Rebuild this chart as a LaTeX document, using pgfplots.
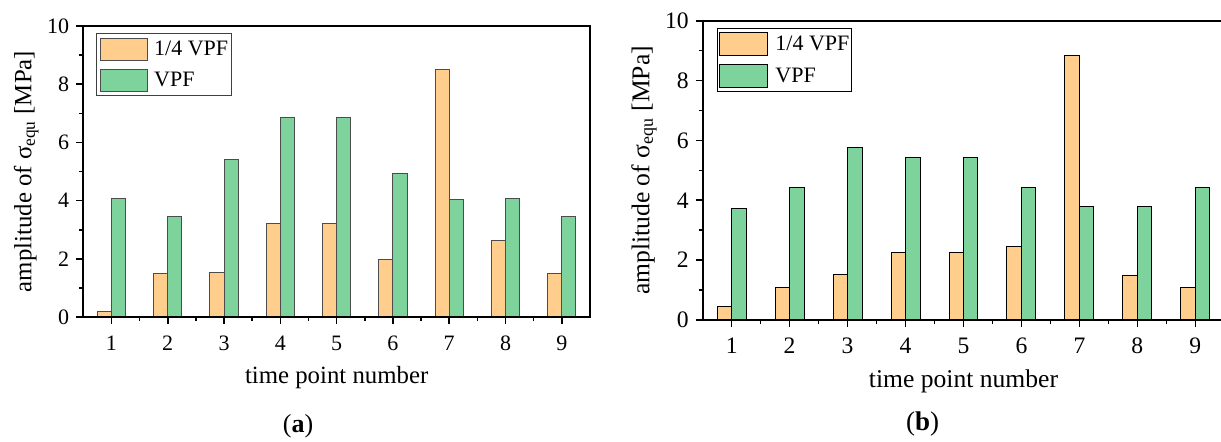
\documentclass[border=0pt]{standalone}
\usepackage{fontspec}
\setmainfont{Liberation Serif}
\usepackage{pgfplots}
\usepackage{pgfplotstable}
\pgfplotsset{compat=1.18}

\definecolor{quarter}{RGB}{255,205,140}
\definecolor{full}{RGB}{125,211,155}

% amplitudes of the equivalent stress [MPa] per time point
\pgfplotstableread{
t q f
1 0.20 4.06
2 1.48 3.46
3 1.52 5.40
4 3.23 6.87
5 3.23 6.87
6 1.98 4.93
7 8.50 4.03
8 2.63 4.06
9 1.48 3.46
}\dataA

\pgfplotstableread{
t q f
1 0.46 3.73
2 1.10 4.43
3 1.53 5.78
4 2.26 5.44
5 2.26 5.44
6 2.46 4.43
7 8.85 3.79
8 1.49 3.79
9 1.09 4.43
}\dataB

\pgfplotsset{
  vpfbars/.style={
    scale only axis, enlargelimits=false, axis on top,
    xmin=0.5, xmax=9.5, ymin=0, ymax=10,
    xtick={1,...,9}, ytick={0,2,...,10},
    minor x tick num=1, minor y tick num=1,
    tick align=outside, tick pos=left,
    major tick length=3.5pt, minor tick length=2pt,
    every tick/.style={black, line width=0.8pt},
    axis line style={line width=0.8pt},
    /pgf/number format/assume math mode=true,
    xticklabel style={anchor=base, yshift=-13pt},
    xlabel={time point number},
    ylabel={amplitude of σ\textsubscript{equ} [MPa]},
    legend cell align=left,
  },
}

\begin{document}
\begin{tikzpicture}
% (a)
\begin{axis}[vpfbars,
  at={(41.65pt,-158.5pt)}, anchor=south west,
  width=253.35pt, height=145.5pt,
  ticklabel style={font=\fontsize{11}{13}\selectfont},
  label style={font=\fontsize{12.4}{14}\selectfont},
  x label style={at={(axis description cs:0.5,-0.2268)}, anchor=base, inner sep=0pt},
  y label style={at={(axis description cs:-0.1026,0.5)}, anchor=base, inner sep=0pt},
  legend style={at={(0.0245,0.975)}, anchor=north west,
    draw=black!75, line width=0.5pt, fill=white,
    inner xsep=1.65pt, inner ysep=1.7pt, row sep=3.3pt, column sep=3.35pt,
    font=\fontsize{11}{13}\selectfont,
    nodes={inner xsep=0pt, inner ysep=0pt, text height=9.4pt, text depth=2.7pt}},
]
\addplot[ybar, bar width=0.25, bar shift=-0.125, fill=quarter, draw=black!70, line width=0.5pt,
  legend image code/.code={\draw[fill=quarter, draw=black!70, line width=0.5pt] (0pt,-5.5pt) rectangle (23.5pt,5.5pt);}]
  table[x=t, y=q] {\dataA};
\addlegendentry{1/4 VPF}
\addplot[ybar, bar width=0.25, bar shift=0.125, fill=full, draw=black!70, line width=0.5pt,
  legend image code/.code={\draw[fill=full, draw=black!70, line width=0.5pt] (0pt,-5.5pt) rectangle (23.5pt,5.5pt);}]
  table[x=t, y=f] {\dataA};
\addlegendentry{VPF}
\end{axis}

% (b)
\begin{axis}[vpfbars,
  at={(351.35pt,-160pt)}, anchor=south west,
  width=260.8pt, height=149.65pt,
  ticklabel style={font=\fontsize{11.8}{14}\selectfont},
  label style={font=\fontsize{12.8}{15}\selectfont},
  x label style={at={(axis description cs:0.5,-0.227)}, anchor=base, inner sep=0pt},
  y label style={at={(axis description cs:-0.1024,0.5)}, anchor=base, inner sep=0pt},
  legend style={at={(0.0268,0.9746)}, anchor=north west,
    draw=black, line width=0.5pt, fill=white,
    inner xsep=1.15pt, inner ysep=1.6pt, row sep=3.5pt, column sep=3.5pt,
    font=\fontsize{11}{13}\selectfont,
    nodes={inner xsep=0pt, inner ysep=0pt, text height=9.4pt, text depth=2.8pt}},
]
\addplot[ybar, bar width=0.25, bar shift=-0.125, fill=quarter, draw=black, line width=0.5pt,
  legend image code/.code={\draw[fill=quarter, draw=black, line width=0.5pt] (0pt,-5.75pt) rectangle (24pt,5.75pt);}]
  table[x=t, y=q] {\dataB};
\addlegendentry{1/4 VPF}
\addplot[ybar, bar width=0.25, bar shift=0.125, fill=full, draw=black, line width=0.5pt,
  legend image code/.code={\draw[fill=full, draw=black, line width=0.5pt] (0pt,-5.75pt) rectangle (24pt,5.75pt);}]
  table[x=t, y=f] {\dataB};
\addlegendentry{VPF}
\end{axis}

\node[anchor=base, inner sep=0pt, font=\fontsize{13}{15}\selectfont] at (149pt,-216.3pt) {(\textbf{a})};
\node[anchor=base, inner sep=0pt, font=\fontsize{13.5}{15}\selectfont] at (461.25pt,-215pt) {(\textbf{b})};

\pgfresetboundingbox
\path[use as bounding box] (0pt,0pt) rectangle (610.5pt,-220.5pt);
\end{tikzpicture}
\end{document}
